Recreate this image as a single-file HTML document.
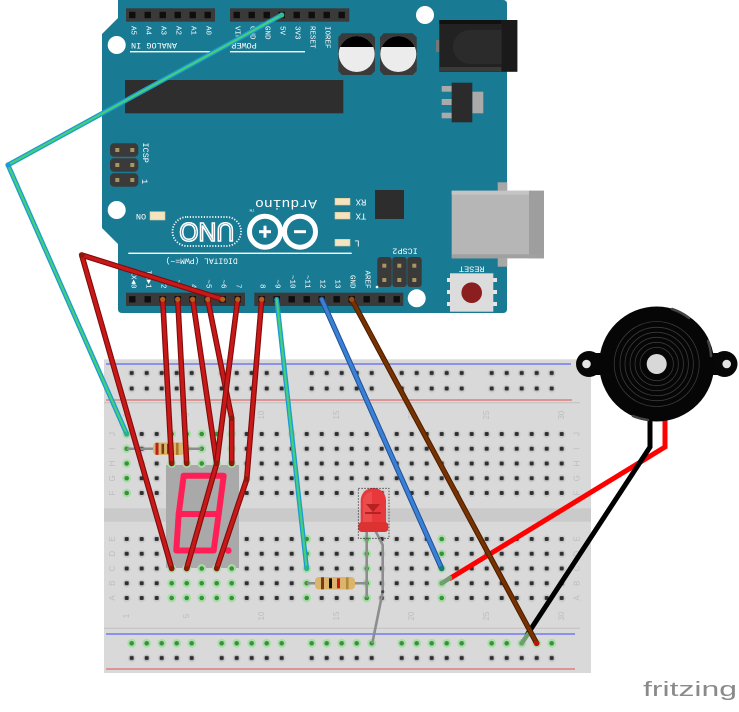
<!DOCTYPE html>
<html><head><meta charset="utf-8"><style>
html,body{margin:0;padding:0;background:#fff;}
svg{display:block;}
.lbl{font-family:"Liberation Mono","DejaVu Sans Mono",monospace;fill:#fff;}
.bbl{font-family:"Liberation Sans","DejaVu Sans",sans-serif;fill:#bdbdbd;font-size:8px;}
.w{fill:none;stroke-linecap:round;stroke-linejoin:round;}
.ro{stroke:#7e0c0c;stroke-width:5.6;}
.ri{stroke:#c91818;stroke-width:3.4;}
</style></head><body>
<svg width="739" height="712" viewBox="0 0 739 712" xmlns="http://www.w3.org/2000/svg">
<defs>
 <pattern id="mp" width="15" height="14.75" patternUnits="userSpaceOnUse">
  <circle cx="7.5" cy="7.6" r="3.9" fill="#c8c8c8"/>
  <rect x="5.5" y="5.375" width="4" height="4" rx="1" fill="#2f2f2f"/>
 </pattern>
 <pattern id="rp" width="90" height="15.5" patternUnits="userSpaceOnUse">
  <circle cx="7.5" cy="8" r="3.9" fill="#c8c8c8"/><rect x="5.5" y="5.75" width="4" height="4" rx="1" fill="#2f2f2f"/>
  <circle cx="22.5" cy="8" r="3.9" fill="#c8c8c8"/><rect x="20.5" y="5.75" width="4" height="4" rx="1" fill="#2f2f2f"/>
  <circle cx="37.5" cy="8" r="3.9" fill="#c8c8c8"/><rect x="35.5" y="5.75" width="4" height="4" rx="1" fill="#2f2f2f"/>
  <circle cx="52.5" cy="8" r="3.9" fill="#c8c8c8"/><rect x="50.5" y="5.75" width="4" height="4" rx="1" fill="#2f2f2f"/>
  <circle cx="67.5" cy="8" r="3.9" fill="#c8c8c8"/><rect x="65.5" y="5.75" width="4" height="4" rx="1" fill="#2f2f2f"/>
 </pattern>
 <pattern id="rpg" width="90" height="15.5" patternUnits="userSpaceOnUse">
  <circle cx="7.5" cy="7.75" r="4.4" fill="#a7dea7"/><circle cx="7.5" cy="7.75" r="2.3" fill="#3b8f3b"/>
  <circle cx="22.5" cy="7.75" r="4.4" fill="#a7dea7"/><circle cx="22.5" cy="7.75" r="2.3" fill="#3b8f3b"/>
  <circle cx="37.5" cy="7.75" r="4.4" fill="#a7dea7"/><circle cx="37.5" cy="7.75" r="2.3" fill="#3b8f3b"/>
  <circle cx="52.5" cy="7.75" r="4.4" fill="#a7dea7"/><circle cx="52.5" cy="7.75" r="2.3" fill="#3b8f3b"/>
  <circle cx="67.5" cy="7.75" r="4.4" fill="#a7dea7"/><circle cx="67.5" cy="7.75" r="2.3" fill="#3b8f3b"/>
 </pattern>
 <g id="gh"><circle r="4.4" fill="#a7dea7"/><circle r="2.3" fill="#3b8f3b"/></g>
 <rect id="pin" x="-3.2" y="-3.2" width="6.4" height="6.4" fill="#0e0e0e"/>
 <clipPath id="capclip"><rect x="330" y="30" width="100" height="17"/></clipPath>
</defs>

<!-- ================= ARDUINO ================= -->
<path d="M118,0 L503,0 Q507,0 507,4 L507,309 Q507,313 503,313 L122,313 Q118,313 118,309 L118,244 L102,228 L102,34 L118,18 Z" fill="#187a93"/>
<circle cx="425" cy="15" r="9" fill="#fff"/>
<circle cx="116.7" cy="45" r="9" fill="#fff"/>
<circle cx="116.7" cy="210" r="9" fill="#fff"/>
<circle cx="416.7" cy="298.3" r="9" fill="#fff"/>

<rect x="126" y="8.3" width="89" height="13.4" fill="#3a3a3a"/>
<use href="#pin" x="132.3" y="15"/><use href="#pin" x="147.7" y="15"/><use href="#pin" x="162.7" y="15"/><use href="#pin" x="177.7" y="15"/><use href="#pin" x="192.7" y="15"/><use href="#pin" x="207.7" y="15"/>
<rect x="230" y="8.3" width="119.3" height="13.4" fill="#3a3a3a"/>
<use href="#pin" x="236.7" y="15"/><use href="#pin" x="251.7" y="15"/><use href="#pin" x="266.7" y="15"/><use href="#pin" x="281.7" y="15"/><use href="#pin" x="296.7" y="15"/><use href="#pin" x="311.7" y="15"/><use href="#pin" x="326.7" y="15"/><use href="#pin" x="341.7" y="15"/>

<g class="lbl" font-size="7.5">
 <text transform="translate(132.3,26) rotate(90)" dominant-baseline="central">A5</text>
 <text transform="translate(147.7,26) rotate(90)" dominant-baseline="central">A4</text>
 <text transform="translate(162.7,26) rotate(90)" dominant-baseline="central">A3</text>
 <text transform="translate(177.7,26) rotate(90)" dominant-baseline="central">A2</text>
 <text transform="translate(192.7,26) rotate(90)" dominant-baseline="central">A1</text>
 <text transform="translate(207.7,26) rotate(90)" dominant-baseline="central">A0</text>
 <text transform="translate(236.7,26) rotate(90)" dominant-baseline="central">VIN</text>
 <text transform="translate(251.7,26) rotate(90)" dominant-baseline="central">GND</text>
 <text transform="translate(266.7,26) rotate(90)" dominant-baseline="central">GND</text>
 <text transform="translate(281.7,26) rotate(90)" dominant-baseline="central">5V</text>
 <text transform="translate(296.7,26) rotate(90)" dominant-baseline="central">3V3</text>
 <text transform="translate(311.7,26) rotate(90)" dominant-baseline="central">RESET</text>
 <text transform="translate(326.7,26) rotate(90)" dominant-baseline="central">IOREF</text>
</g>
<g class="lbl" font-size="8.5">
 <text x="154" y="45" transform="rotate(180 154 45)" text-anchor="middle" dominant-baseline="central">ANALOG IN</text>
 <text x="244" y="45" transform="rotate(180 244 45)" text-anchor="middle" dominant-baseline="central">POWER</text>
</g>
<rect x="130" y="51" width="80" height="1.4" fill="#fff"/>
<rect x="230" y="51" width="75" height="1.4" fill="#fff"/>

<path d="M342,33.3 L371,33.3 L375,37.3 L375,71 L371,75 L342,75 L338.3,71 L338.3,37.3 Z" fill="#3a3a3a"/>
<path d="M383.7,33.3 L412.7,33.3 L416.7,37.3 L416.7,71 L412.7,75 L383.7,75 L380,71 L380,37.3 Z" fill="#3a3a3a"/>
<circle cx="356.7" cy="54" r="18" fill="#ececec"/>
<circle cx="398.3" cy="54" r="18" fill="#ececec"/>
<circle cx="356.7" cy="54" r="18" fill="#000" clip-path="url(#capclip)"/>
<circle cx="398.3" cy="54" r="18" fill="#000" clip-path="url(#capclip)"/>

<rect x="436" y="40" width="4" height="12" fill="#777"/>
<rect x="439.3" y="20" width="78" height="51.7" fill="#222"/>
<rect x="439.3" y="20" width="62" height="4" fill="#111"/>
<path d="M501.7,30 L470,30 A17,17 0 0 0 470,64 L501.7,64 Z" fill="#2b2b2b"/>
<rect x="501.7" y="20" width="15.6" height="51.7" fill="#1a1a1a"/>
<rect x="439.3" y="67" width="62" height="4" fill="#3a3a3a"/>

<rect x="441.7" y="86" width="10" height="5.7" fill="#aaa"/>
<rect x="441.7" y="99" width="10" height="6" fill="#aaa"/>
<rect x="441.7" y="112.7" width="10" height="5.6" fill="#aaa"/>
<rect x="472.3" y="91.7" width="11" height="21.6" fill="#aaa"/>
<rect x="451.7" y="82.7" width="20.6" height="39.6" fill="#2b2b2b"/>

<rect x="125" y="80" width="218.3" height="33.3" fill="#2e2e2e"/>

<rect x="110" y="143.3" width="28.3" height="13.4" rx="4" fill="#3a3a3a"/>
<rect x="110" y="158.3" width="28.3" height="13.4" rx="4" fill="#3a3a3a"/>
<rect x="110" y="173.3" width="28.3" height="13.4" rx="4" fill="#3a3a3a"/>
<g fill="#a8975f">
 <rect x="115.3" y="148" width="4" height="4"/><rect x="130.3" y="148" width="4" height="4"/>
 <rect x="115.3" y="163" width="4" height="4"/><rect x="130.3" y="163" width="4" height="4"/>
 <rect x="115.3" y="178" width="4" height="4"/><rect x="130.3" y="178" width="4" height="4"/>
</g>
<g class="lbl" font-size="8.5">
 <text transform="translate(145,142.5) rotate(90)" dominant-baseline="central">ICSP</text>
 <text transform="translate(144,179) rotate(90)" dominant-baseline="central">1</text>
</g>

<rect x="150" y="211.7" width="15" height="8.3" fill="#f3e4c0" stroke="#d9c79a" stroke-width="0.6"/>
<text class="lbl" font-size="8.5" x="141" y="216" transform="rotate(180 141 216)" text-anchor="middle" dominant-baseline="central">ON</text>

<rect x="172.5" y="217" width="68.5" height="29" rx="14.5" fill="none" stroke="#fff" stroke-width="1.8" stroke-dasharray="1.2 1.6"/>
<text x="206.7" y="232" transform="rotate(180 206.7 232)" text-anchor="middle" dominant-baseline="central" font-family="Liberation Sans, sans-serif" font-size="26" fill="none" stroke="#fff" stroke-width="1.6" textLength="55" lengthAdjust="spacingAndGlyphs">UNO</text>
<circle cx="265" cy="231.7" r="15.5" fill="none" stroke="#fff" stroke-width="5"/>
<circle cx="300" cy="231.7" r="15.5" fill="none" stroke="#fff" stroke-width="5"/>
<rect x="259" y="230.2" width="12" height="3" fill="#fff"/>
<rect x="263.5" y="225.7" width="3" height="12" fill="#fff"/>
<rect x="294" y="230.2" width="12" height="3" fill="#fff"/>
<text class="lbl" x="286" y="203.5" transform="rotate(180 286 203.5)" text-anchor="middle" dominant-baseline="central" font-size="13" textLength="62" lengthAdjust="spacingAndGlyphs">Arduino</text>
<text class="lbl" x="252" y="209" transform="rotate(180 252 209)" text-anchor="middle" dominant-baseline="central" font-size="4">TM</text>

<rect x="335" y="198.3" width="15" height="6.7" fill="#f3e4c0" stroke="#d9c79a" stroke-width="0.6"/>
<rect x="335" y="212.3" width="15" height="6.7" fill="#f3e4c0" stroke="#d9c79a" stroke-width="0.6"/>
<rect x="335" y="239.3" width="15" height="6.7" fill="#f3e4c0" stroke="#d9c79a" stroke-width="0.6"/>
<g class="lbl" font-size="9">
 <text x="361" y="201.7" transform="rotate(180 361 201.7)" text-anchor="middle" dominant-baseline="central">RX</text>
 <text x="361" y="215.7" transform="rotate(180 361 215.7)" text-anchor="middle" dominant-baseline="central">TX</text>
 <text x="357" y="242.7" transform="rotate(180 357 242.7)" text-anchor="middle" dominant-baseline="central">L</text>
</g>
<rect x="375" y="190" width="29" height="29" fill="#2d2d2d"/>

<rect x="377.3" y="257" width="14.4" height="30" rx="3" fill="#3a3a3a"/>
<rect x="392.3" y="257" width="14.4" height="30" rx="3" fill="#3a3a3a"/>
<rect x="407.3" y="257" width="14.4" height="30" rx="3" fill="#3a3a3a"/>
<g fill="#a8975f">
 <rect x="382.3" y="263.7" width="4" height="4"/><rect x="397.3" y="263.7" width="4" height="4"/><rect x="412.3" y="263.7" width="4" height="4"/>
 <rect x="382.3" y="278" width="4" height="4"/><rect x="397.3" y="278" width="4" height="4"/><rect x="412.3" y="278" width="4" height="4"/>
</g>
<text class="lbl" font-size="8.5" x="405" y="250.7" transform="rotate(180 405 250.7)" text-anchor="middle" dominant-baseline="central">ICSP2</text>

<rect x="497.7" y="182.3" width="9.6" height="84.4" fill="#a8a8a8"/>
<rect x="451.7" y="190.7" width="92.3" height="67.6" fill="#b6b6b6"/>
<rect x="451.7" y="190.7" width="92.3" height="4" fill="#c4c4c4"/>
<rect x="529" y="190.7" width="15" height="67.6" fill="#9e9e9e"/>
<rect x="451.7" y="254.3" width="92.3" height="4" fill="#a0a0a0"/>

<rect x="447" y="278" width="50" height="4" fill="#e6e6e6"/>
<rect x="447" y="290" width="50" height="4" fill="#e6e6e6"/>
<rect x="447" y="302" width="50" height="4" fill="#e6e6e6"/>
<rect x="450" y="273.3" width="43.3" height="38.4" fill="#dcdcdc"/>
<circle cx="471.7" cy="292.7" r="10.3" fill="#8b1f1f"/>
<text class="lbl" font-size="8.5" x="471.7" y="268.3" transform="rotate(180 471.7 268.3)" text-anchor="middle" dominant-baseline="central">RESET</text>

<rect x="128.3" y="252.6" width="223.4" height="1.4" fill="#fff"/>
<text class="lbl" font-size="8" x="201.7" y="260" transform="rotate(180 201.7 260)" text-anchor="middle" dominant-baseline="central">DIGITAL (PWM=~)</text>
<g class="lbl" font-size="7.5">
 <text transform="translate(132.3,288.5) rotate(90)" text-anchor="end" dominant-baseline="central">RX◄0</text>
 <text transform="translate(147.7,288.5) rotate(90)" text-anchor="end" dominant-baseline="central">TX►1</text>
 <text transform="translate(162.7,288.5) rotate(90)" text-anchor="end" dominant-baseline="central">2</text>
 <text transform="translate(177.7,288.5) rotate(90)" text-anchor="end" dominant-baseline="central">~3</text>
 <text transform="translate(192.7,288.5) rotate(90)" text-anchor="end" dominant-baseline="central">4</text>
 <text transform="translate(207.7,288.5) rotate(90)" text-anchor="end" dominant-baseline="central">~5</text>
 <text transform="translate(222.7,288.5) rotate(90)" text-anchor="end" dominant-baseline="central">~6</text>
 <text transform="translate(237.7,288.5) rotate(90)" text-anchor="end" dominant-baseline="central">7</text>
 <text transform="translate(261.7,288.5) rotate(90)" text-anchor="end" dominant-baseline="central">8</text>
 <text transform="translate(276.7,288.5) rotate(90)" text-anchor="end" dominant-baseline="central">~9</text>
 <text transform="translate(291.7,288.5) rotate(90)" text-anchor="end" dominant-baseline="central">~10</text>
 <text transform="translate(306.7,288.5) rotate(90)" text-anchor="end" dominant-baseline="central">~11</text>
 <text transform="translate(321.7,288.5) rotate(90)" text-anchor="end" dominant-baseline="central">12</text>
 <text transform="translate(336.7,288.5) rotate(90)" text-anchor="end" dominant-baseline="central">13</text>
 <text transform="translate(351.7,288.5) rotate(90)" text-anchor="end" dominant-baseline="central">GND</text>
 <text transform="translate(366.7,288.5) rotate(90)" text-anchor="end" dominant-baseline="central">AREF</text>
</g>
<circle cx="377" cy="287" r="1.3" fill="#fff"/>
<rect x="126" y="292.7" width="119" height="13.3" fill="#3a3a3a"/>
<rect x="254.3" y="292.7" width="149" height="13.3" fill="#3a3a3a"/>
<use href="#pin" x="132.3" y="299.3"/><use href="#pin" x="147.7" y="299.3"/><use href="#pin" x="162.7" y="299.3"/><use href="#pin" x="177.7" y="299.3"/><use href="#pin" x="192.7" y="299.3"/><use href="#pin" x="207.7" y="299.3"/><use href="#pin" x="222.7" y="299.3"/><use href="#pin" x="237.7" y="299.3"/>
<use href="#pin" x="261.7" y="299.3"/><use href="#pin" x="276.7" y="299.3"/><use href="#pin" x="291.7" y="299.3"/><use href="#pin" x="306.7" y="299.3"/><use href="#pin" x="321.7" y="299.3"/><use href="#pin" x="336.7" y="299.3"/><use href="#pin" x="351.7" y="299.3"/><use href="#pin" x="366.7" y="299.3"/><use href="#pin" x="381.7" y="299.3"/><use href="#pin" x="396.7" y="299.3"/>

<!-- ================= BREADBOARD ================= -->
<rect x="104" y="359.3" width="487" height="313.7" fill="#d9d9d9"/>
<rect x="104" y="508.3" width="487" height="13.4" fill="#cacaca"/>
<rect x="104" y="402" width="476" height="1.3" fill="#c6c6c6"/>
<rect x="104" y="627.7" width="476" height="1.3" fill="#c6c6c6"/>
<rect x="106" y="363.5" width="465" height="1" fill="#3b4bff"/>
<rect x="106" y="399.5" width="466" height="1" fill="#e05050"/>
<rect x="106" y="633.5" width="469" height="1" fill="#3b4bff"/>
<rect x="106" y="668.5" width="469" height="1" fill="#e05050"/>

<g transform="translate(124.2,365.25)"><rect width="450" height="31" fill="url(#rp)"/></g>
<g transform="translate(119.2,426.625)"><rect width="450" height="73.75" fill="url(#mp)"/></g>
<g transform="translate(119.2,531.625)"><rect width="450" height="73.75" fill="url(#mp)"/></g>
<g transform="translate(124.2,635.55)"><rect width="450" height="15.5" fill="url(#rpg)"/></g>
<g transform="translate(124.2,650.25)"><rect width="450" height="15.5" fill="url(#rp)"/></g>

<g class="bbl">
 <text transform="translate(126.7,415) rotate(-90)" text-anchor="middle" dominant-baseline="central">1</text>
 <text transform="translate(186.7,415) rotate(-90)" text-anchor="middle" dominant-baseline="central">5</text>
 <text transform="translate(261.7,415) rotate(-90)" text-anchor="middle" dominant-baseline="central">10</text>
 <text transform="translate(336.7,415) rotate(-90)" text-anchor="middle" dominant-baseline="central">15</text>
 <text transform="translate(411.7,415) rotate(-90)" text-anchor="middle" dominant-baseline="central">20</text>
 <text transform="translate(486.7,415) rotate(-90)" text-anchor="middle" dominant-baseline="central">25</text>
 <text transform="translate(561.7,415) rotate(-90)" text-anchor="middle" dominant-baseline="central">30</text>
 <text transform="translate(126.7,616) rotate(-90)" text-anchor="middle" dominant-baseline="central">1</text>
 <text transform="translate(186.7,616) rotate(-90)" text-anchor="middle" dominant-baseline="central">5</text>
 <text transform="translate(261.7,616) rotate(-90)" text-anchor="middle" dominant-baseline="central">10</text>
 <text transform="translate(336.7,616) rotate(-90)" text-anchor="middle" dominant-baseline="central">15</text>
 <text transform="translate(411.7,616) rotate(-90)" text-anchor="middle" dominant-baseline="central">20</text>
 <text transform="translate(486.7,616) rotate(-90)" text-anchor="middle" dominant-baseline="central">25</text>
 <text transform="translate(561.7,616) rotate(-90)" text-anchor="middle" dominant-baseline="central">30</text>
 <text transform="translate(112.5,434) rotate(-90)" text-anchor="middle" dominant-baseline="central">J</text>
 <text transform="translate(112.5,448.75) rotate(-90)" text-anchor="middle" dominant-baseline="central">I</text>
 <text transform="translate(112.5,463.5) rotate(-90)" text-anchor="middle" dominant-baseline="central">H</text>
 <text transform="translate(112.5,478.25) rotate(-90)" text-anchor="middle" dominant-baseline="central">G</text>
 <text transform="translate(112.5,493) rotate(-90)" text-anchor="middle" dominant-baseline="central">F</text>
 <text transform="translate(112.5,539) rotate(-90)" text-anchor="middle" dominant-baseline="central">E</text>
 <text transform="translate(112.5,553.75) rotate(-90)" text-anchor="middle" dominant-baseline="central">D</text>
 <text transform="translate(112.5,568.5) rotate(-90)" text-anchor="middle" dominant-baseline="central">C</text>
 <text transform="translate(112.5,583.25) rotate(-90)" text-anchor="middle" dominant-baseline="central">B</text>
 <text transform="translate(112.5,598) rotate(-90)" text-anchor="middle" dominant-baseline="central">A</text>
 <text transform="translate(577,434) rotate(-90)" text-anchor="middle" dominant-baseline="central">J</text>
 <text transform="translate(577,448.75) rotate(-90)" text-anchor="middle" dominant-baseline="central">I</text>
 <text transform="translate(577,463.5) rotate(-90)" text-anchor="middle" dominant-baseline="central">H</text>
 <text transform="translate(577,478.25) rotate(-90)" text-anchor="middle" dominant-baseline="central">G</text>
 <text transform="translate(577,493) rotate(-90)" text-anchor="middle" dominant-baseline="central">F</text>
 <text transform="translate(577,539) rotate(-90)" text-anchor="middle" dominant-baseline="central">E</text>
 <text transform="translate(577,553.75) rotate(-90)" text-anchor="middle" dominant-baseline="central">D</text>
 <text transform="translate(577,568.5) rotate(-90)" text-anchor="middle" dominant-baseline="central">C</text>
 <text transform="translate(577,583.25) rotate(-90)" text-anchor="middle" dominant-baseline="central">B</text>
 <text transform="translate(577,598) rotate(-90)" text-anchor="middle" dominant-baseline="central">A</text>
</g>

<use href="#gh" x="126.7" y="434"/><use href="#gh" x="126.7" y="448.75"/><use href="#gh" x="126.7" y="463.5"/><use href="#gh" x="126.7" y="478.25"/><use href="#gh" x="126.7" y="493"/>
<use href="#gh" x="171.7" y="434"/><use href="#gh" x="186.7" y="434"/><use href="#gh" x="201.7" y="434"/><use href="#gh" x="216.7" y="434"/><use href="#gh" x="231.7" y="434"/>
<use href="#gh" x="171.7" y="448.75"/><use href="#gh" x="186.7" y="448.75"/><use href="#gh" x="201.7" y="448.75"/><use href="#gh" x="216.7" y="448.75"/><use href="#gh" x="231.7" y="448.75"/>
<use href="#gh" x="171.7" y="583.25"/><use href="#gh" x="186.7" y="583.25"/><use href="#gh" x="201.7" y="583.25"/><use href="#gh" x="216.7" y="583.25"/><use href="#gh" x="231.7" y="583.25"/>
<use href="#gh" x="171.7" y="598"/><use href="#gh" x="186.7" y="598"/><use href="#gh" x="201.7" y="598"/><use href="#gh" x="216.7" y="598"/><use href="#gh" x="231.7" y="598"/>
<use href="#gh" x="306.7" y="539"/><use href="#gh" x="306.7" y="553.75"/><use href="#gh" x="306.7" y="568.5"/><use href="#gh" x="306.7" y="583.25"/><use href="#gh" x="306.7" y="598"/>
<use href="#gh" x="366.7" y="539"/><use href="#gh" x="366.7" y="553.75"/><use href="#gh" x="366.7" y="568.5"/><use href="#gh" x="366.7" y="583.25"/><use href="#gh" x="366.7" y="598"/>
<use href="#gh" x="441.7" y="539"/><use href="#gh" x="441.7" y="553.75"/><use href="#gh" x="441.7" y="568.5"/><use href="#gh" x="441.7" y="583.25"/><use href="#gh" x="441.7" y="598"/>

<!-- 7-seg display -->
<rect x="166" y="465" width="73" height="103" fill="#a9a9a9"/>
<g fill="none" stroke="#ff1f57" stroke-width="6" stroke-linejoin="round">
 <path d="M183.7,475.7 L223.7,475.7 L218.7,514 L178.7,514 Z"/>
 <path d="M178.7,514 L218.7,514 L213.7,550.5 L176.3,550.5 Z"/>
</g>
<circle cx="228.3" cy="550.5" r="3.3" fill="#ff1f57"/>
<use href="#gh" x="171.7" y="463.5"/><use href="#gh" x="186.7" y="463.5"/><use href="#gh" x="201.7" y="463.5"/><use href="#gh" x="216.7" y="463.5"/><use href="#gh" x="231.7" y="463.5"/>
<use href="#gh" x="171.7" y="568.5"/><use href="#gh" x="186.7" y="568.5"/><use href="#gh" x="201.7" y="568.5"/><use href="#gh" x="216.7" y="568.5"/><use href="#gh" x="231.7" y="568.5"/>

<!-- resistor 1 -->
<line x1="126.7" y1="448.75" x2="201.7" y2="448.75" stroke="#8d8d8d" stroke-width="2.6"/>
<rect x="153" y="442.5" width="32" height="12.5" rx="4" fill="#dcb46c"/>
<rect x="155.5" y="442.8" width="3" height="12" fill="#b8201a"/>
<rect x="161.5" y="443.8" width="2.6" height="10" fill="#7a3b12"/>
<rect x="167" y="443.8" width="2.6" height="10" fill="#7a3b12"/>
<rect x="176" y="442.8" width="2.6" height="12" fill="#a8782c"/>

<!-- resistor 2 -->
<line x1="306.7" y1="583.25" x2="366.7" y2="583.25" stroke="#8d8d8d" stroke-width="2.6"/>
<rect x="315" y="577" width="40" height="12.5" rx="4" fill="#dcb46c"/>
<rect x="321" y="577.3" width="3" height="12" fill="#7a3b12"/>
<rect x="329" y="578.3" width="3" height="10" fill="#111"/>
<rect x="337" y="578.3" width="3" height="10" fill="#c81818"/>
<rect x="346" y="577.3" width="2.6" height="12" fill="#b08a3a"/>

<!-- LED legs -->
<path d="M366.7,528 L366.7,598" fill="none" stroke="#8d8d8d" stroke-width="2.6"/>
<path d="M374,528 L382.7,545 L382.7,591.7 L372.3,643.3" fill="none" stroke="#8d8d8d" stroke-width="2.6" stroke-linejoin="round"/>
<circle cx="382.7" cy="591.7" r="1.6" fill="#444"/>
<!-- LED -->
<path d="M360.7,527 L360.7,500.5 A12.65,12.65 0 0 1 386,500.5 L386,527 Z" fill="#e8383b"/>
<path d="M363,526 L363,501 A10,10 0 0 1 372,491.5 L372,526 Z" fill="#f05a5a" opacity="0.6"/>
<rect x="358.3" y="522" width="30" height="10" rx="3.5" fill="#dc3232"/>
<path d="M366,504 L380,504 L373,512 Z" fill="#b52222"/>
<rect x="365" y="512" width="16" height="2" fill="#b52222"/>
<rect x="358.3" y="488.3" width="30.7" height="50" fill="none" stroke="#333" stroke-width="0.8" stroke-dasharray="1.5 1.5"/>

<!-- buzzer leads -->
<path d="M665,420 L665,447 L449,579" fill="none" stroke="#ff0000" stroke-width="5" stroke-linejoin="miter"/>
<path d="M450,578 L441.7,583.3" stroke="#6f9f6f" stroke-width="4.5" stroke-linecap="round"/>
<path d="M650,420 L650,447 L527,635" fill="none" stroke="#000" stroke-width="5" stroke-linejoin="miter"/>
<path d="M528,634 L521.7,643.3" stroke="#6f9f6f" stroke-width="4.5" stroke-linecap="round"/>

<!-- buzzer -->
<g>
 <circle cx="589" cy="364" r="13" fill="#070707"/>
 <circle cx="724.5" cy="364" r="13" fill="#070707"/>
 <rect x="589" y="353" width="136" height="22" fill="#070707"/>
 <circle cx="586.5" cy="364" r="4.3" fill="#e4e4e4"/>
 <circle cx="726.7" cy="364" r="4.3" fill="#e4e4e4"/>
 <circle cx="656.7" cy="364" r="57.5" fill="#060606"/>
 <g fill="none" stroke="#444" stroke-width="2.5" stroke-linecap="round">
  <path d="M672,309 A56,56 0 0 1 689,318"/>
  <path d="M708,341 A56,56 0 0 1 711,356"/>
  <path d="M633,416 A56,56 0 0 0 648,420"/>
 </g>
 <g fill="none" stroke="#3a3a3a" stroke-width="0.8">
  <circle cx="656.7" cy="364" r="16.7"/>
  <circle cx="656.7" cy="364" r="21.7"/>
  <circle cx="656.7" cy="364" r="26.7"/>
  <circle cx="656.7" cy="364" r="31.7"/>
  <circle cx="656.7" cy="364" r="36.7"/>
  <circle cx="656.7" cy="364" r="42.5"/>
 </g>
 <circle cx="656.7" cy="364" r="10" fill="#d8d8d8"/>
</g>

<!-- ================= WIRES ================= -->
<g class="w">
 <path class="ro" d="M162.7,299.3 L171.7,463.5"/><path class="ri" d="M162.7,299.3 L171.7,463.5"/>
 <path class="ro" d="M177.7,299.3 L186.7,463.5"/><path class="ri" d="M177.7,299.3 L186.7,463.5"/>
 <path class="ro" d="M192.7,299.3 L216.7,463.5"/><path class="ri" d="M192.7,299.3 L216.7,463.5"/>
 <path class="ro" d="M207.7,299.3 L231.7,418.3 L231.7,463.5"/><path class="ri" d="M207.7,299.3 L231.7,418.3 L231.7,463.5"/>
 <path class="ro" d="M222.7,299.3 L81.7,255 L171.7,568.5"/><path class="ri" d="M222.7,299.3 L81.7,255 L171.7,568.5"/>
 <path class="ro" d="M237.7,299.3 L216.7,463.5 L186.7,568.5"/><path class="ri" d="M237.7,299.3 L216.7,463.5 L186.7,568.5"/>
 <path class="ro" d="M261.7,299.3 L246.7,479.3 L216.7,568.5"/><path class="ri" d="M261.7,299.3 L246.7,479.3 L216.7,568.5"/>
</g>
<g fill="#8a1a0a">
 <circle cx="231.7" cy="418.3" r="2.8"/><circle cx="216.7" cy="463.5" r="2.8"/><circle cx="246.7" cy="479.3" r="2.8"/><circle cx="81.7" cy="255" r="2.8"/>
 <circle cx="171.7" cy="463.5" r="2.6"/><circle cx="186.7" cy="463.5" r="2.6"/><circle cx="231.7" cy="463.5" r="2.6"/>
 <circle cx="171.7" cy="568.5" r="2.6"/><circle cx="186.7" cy="568.5" r="2.6"/><circle cx="216.7" cy="568.5" r="2.6"/>
</g>
<g fill="#b0601a">
 <circle cx="162.7" cy="299.3" r="2.6"/><circle cx="177.7" cy="299.3" r="2.6"/><circle cx="192.7" cy="299.3" r="2.6"/><circle cx="207.7" cy="299.3" r="2.6"/><circle cx="222.7" cy="299.3" r="2.6"/><circle cx="237.7" cy="299.3" r="2.6"/><circle cx="261.7" cy="299.3" r="2.6"/>
</g>

<g class="w">
 <path d="M281.7,15 L8,165 L126.7,434" stroke="#1c9bd6" stroke-width="4.8"/>
 <path d="M281.7,15 L8,165 L126.7,434" stroke="#45cf76" stroke-width="2.2"/>
 <path d="M276.7,299.3 L306.7,568.5" stroke="#1c9bd6" stroke-width="4.8"/>
 <path d="M276.7,299.3 L306.7,568.5" stroke="#45cf76" stroke-width="2.2"/>
</g>
<circle cx="281.7" cy="15" r="2.6" fill="#2fc08a"/>
<circle cx="8" cy="165" r="2.6" fill="#1c9bd6"/>
<circle cx="126.7" cy="434" r="2.6" fill="#2fb08a"/>
<circle cx="306.7" cy="568.5" r="2.6" fill="#2fb08a"/>

<g class="w">
 <path d="M321.7,299.3 L441.7,568.5" stroke="#1f4f96" stroke-width="5.4"/>
 <path d="M321.7,299.3 L441.7,568.5" stroke="#3a80d4" stroke-width="3.4"/>
</g>
<circle cx="441.7" cy="568.5" r="2.6" fill="#1a7a7a"/>
<g class="w">
 <path d="M351.7,299.3 L536.7,643.3" stroke="#4a1c00" stroke-width="5.4"/>
 <path d="M351.7,299.3 L536.7,643.3" stroke="#773200" stroke-width="3.4"/>
</g>
<circle cx="536.7" cy="643.3" r="2.8" fill="#c01010"/>
<circle cx="351.7" cy="299.3" r="2.6" fill="#a04a10"/>

<text x="643" y="696" font-family="Liberation Sans, DejaVu Sans, sans-serif" font-size="20" fill="#8a8a8a" textLength="94" lengthAdjust="spacingAndGlyphs">fritzing</text>
</svg>
</body></html>
